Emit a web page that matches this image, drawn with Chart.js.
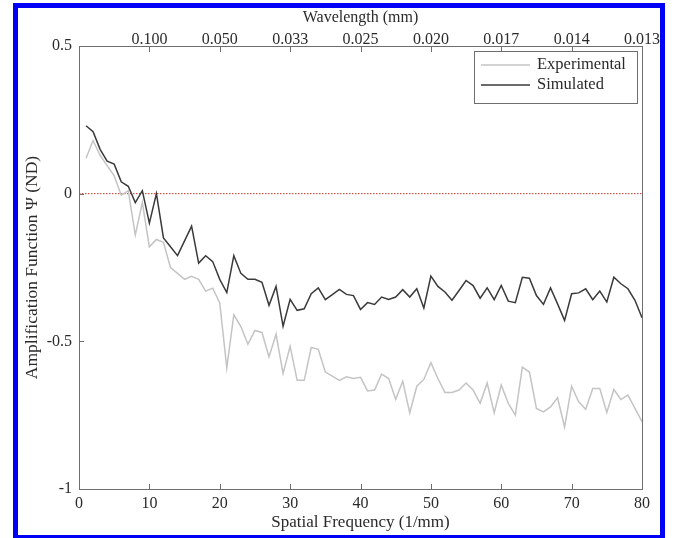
<!DOCTYPE html>
<html>
<head>
    <title>Amplification Function</title>
    <script src="https://cdn.jsdelivr.net/npm/chart.js"></script>
    <style>
        body { margin: 0; background: #fff; }
        #wrap { position: relative; width: 674px; height: 538px; overflow: hidden; }
        #frame {
            position: absolute; left: 13px; top: 3px; width: 652px; height: 537px;
            box-sizing: border-box; border: 5px solid #0000f5; pointer-events: none;
        }
    </style>
</head>
<body>
<div id="wrap">
    <canvas id="ampChart" width="674" height="538"></canvas>
    <div id="frame"></div>
</div>

<script>
    // Spatial frequency (1/mm)
    const freq = [1, 2, 3, 4, 5, 6, 7, 8, 9, 10, 11, 12, 13, 14, 15, 16, 17, 18, 19, 20,
        21, 22, 23, 24, 25, 26, 27, 28, 29, 30, 31, 32, 33, 34, 35, 36, 37, 38, 39, 40,
        41, 42, 43, 44, 45, 46, 47, 48, 49, 50, 51, 52, 53, 54, 55, 56, 57, 58, 59, 60,
        61, 62, 63, 64, 65, 66, 67, 68, 69, 70, 71, 72, 73, 74, 75, 76, 77, 78, 79, 80];

    const experimental = [0.12, 0.18, 0.13, 0.095, 0.06, -0.005, 0.01, -0.14, -0.03, -0.18,
        -0.155, -0.165, -0.25, -0.27, -0.29, -0.28, -0.29, -0.33, -0.32, -0.37,
        -0.59, -0.41, -0.45, -0.51, -0.463, -0.47, -0.553, -0.476, -0.609, -0.517,
        -0.632, -0.632, -0.521, -0.527, -0.604, -0.618, -0.632, -0.62, -0.626, -0.622,
        -0.668, -0.665, -0.611, -0.626, -0.696, -0.635, -0.742, -0.652, -0.629, -0.572,
        -0.626, -0.673, -0.673, -0.665, -0.641, -0.665, -0.71, -0.641, -0.742, -0.648,
        -0.71, -0.75, -0.587, -0.604, -0.727, -0.739, -0.722, -0.691, -0.79, -0.652,
        -0.705, -0.73, -0.66, -0.66, -0.741, -0.663, -0.697, -0.682, -0.727, -0.772];

    const simulated = [0.23, 0.21, 0.15, 0.11, 0.10, 0.04, 0.025, -0.03, 0.01, -0.10,
        0.00, -0.15, -0.18, -0.21, -0.16, -0.11, -0.235, -0.21, -0.23, -0.29,
        -0.335, -0.21, -0.27, -0.29, -0.29, -0.30, -0.378, -0.314, -0.449, -0.358,
        -0.395, -0.39, -0.339, -0.319, -0.359, -0.342, -0.324, -0.341, -0.345, -0.392,
        -0.369, -0.375, -0.35, -0.358, -0.35, -0.325, -0.35, -0.322, -0.387, -0.279,
        -0.314, -0.333, -0.361, -0.328, -0.294, -0.311, -0.354, -0.319, -0.359, -0.311,
        -0.364, -0.369, -0.283, -0.286, -0.345, -0.375, -0.319, -0.373, -0.429, -0.339,
        -0.336, -0.322, -0.359, -0.330, -0.367, -0.283, -0.305, -0.322, -0.361, -0.42];

    // top axis: wavelength = 1 / frequency
    const wavelengthTicks = [10, 20, 30, 40, 50, 60, 70, 80];
    const wavelengthLabels = ['0.100', '0.050', '0.033', '0.025', '0.020', '0.017', '0.014', '0.013'];

    const yTicks = [0.5, 0, -0.5, -1];
    const yTickLabels = ['0.5', '0', '-0.5', '-1'];

    const zeroLine = [{ x: 0, y: 0 }, { x: 80, y: 0 }];

    const serif = 'Liberation Serif';
    const textColor = '#2a2a2a';
    const axisColor = '#6e6e6e';
    const noGrid = { display: false, drawTicks: false, tickLength: 0 };

    // box, inner tick marks and legend, matlab style
    const framePlugin = {
        id: 'frame',
        afterDatasetsDraw(chart) {
            const ctx = chart.ctx;
            const a = chart.chartArea;
            const x = chart.scales.x, y = chart.scales.y;
            ctx.save();
            ctx.strokeStyle = axisColor;
            ctx.lineWidth = 1;
            ctx.strokeRect(Math.round(a.left) + 0.5, Math.round(a.top) + 0.5,
                Math.round(a.right - a.left), Math.round(a.bottom - a.top));

            // legend
            const lx = 474, ly = 51, lw = 163, lh = 52;
            ctx.fillStyle = '#fff';
            ctx.fillRect(lx, ly, lw, lh);
            ctx.strokeRect(lx + 0.5, ly + 0.5, lw, lh);
            ctx.font = '16.5px "' + serif + '"';
            ctx.textBaseline = 'middle';
            ctx.textAlign = 'left';
            const items = [chart.data.datasets[1], chart.data.datasets[0]];
            items.forEach((ds, i) => {
                const yy = ly + 14 + i * 20;
                ctx.strokeStyle = ds.borderColor;
                ctx.lineWidth = ds.borderWidth;
                ctx.beginPath();
                ctx.moveTo(lx + 7, yy); ctx.lineTo(lx + 56, yy);
                ctx.stroke();
                ctx.fillStyle = textColor;
                ctx.fillText(ds.label, lx + 63, yy);
            });

            ctx.strokeStyle = axisColor;
            ctx.lineWidth = 1;
            ctx.beginPath();
            wavelengthTicks.forEach(v => {
                if (v >= 80) return;
                const px = Math.round(x.getPixelForValue(v)) + 0.5;
                ctx.moveTo(px, a.bottom); ctx.lineTo(px, a.bottom - 5);
                ctx.moveTo(px, a.top); ctx.lineTo(px, a.top + 6);
            });
            yTicks.forEach(v => {
                const py = Math.round(y.getPixelForValue(v)) + 0.5;
                ctx.moveTo(a.left, py); ctx.lineTo(a.left + 5, py);
            });
            ctx.stroke();
            ctx.restore();
        }
    };

    const ctx = document.getElementById('ampChart').getContext('2d');
    const chart = new Chart(ctx, {
        type: 'line',
        data: {
            datasets: [
                {
                    label: 'Simulated',
                    data: freq.map((f, i) => ({ x: f, y: simulated[i] })),
                    borderColor: '#3a3a3a',
                    borderWidth: 1.5,
                    pointRadius: 0,
                    tension: 0,
                    order: 0
                },
                {
                    label: 'Experimental',
                    data: freq.map((f, i) => ({ x: f, y: experimental[i] })),
                    borderColor: '#c4c4c4',
                    borderWidth: 1.5,
                    pointRadius: 0,
                    tension: 0,
                    order: 1
                },
                {
                    label: 'zero',
                    data: zeroLine,
                    borderColor: 'rgb(200, 50, 40)',
                    borderWidth: 1,
                    borderDash: [1.5, 1.5],
                    pointRadius: 0,
                    order: 2
                }
            ]
        },
        options: {
            responsive: false,
            animation: false,
            devicePixelRatio: 1,
            layout: { padding: { left: 0, right: 32, top: 0, bottom: 0 }, autoPadding: false },
            plugins: {
                legend: { display: false },
                tooltip: { enabled: false }
            },
            scales: {
                x: {
                    type: 'linear',
                    position: 'bottom',
                    min: 0,
                    max: 80,
                    grid: noGrid,
                    border: { display: false },
                    ticks: {
                        stepSize: 10,
                        autoSkip: false,
                        maxRotation: 0,
                        padding: 7,
                        color: textColor,
                        font: { family: serif, size: 16, lineHeight: 1 }
                    },
                    title: {
                        display: true,
                        text: 'Spatial Frequency (1/mm)',
                        color: textColor,
                        font: { family: serif, size: 17, lineHeight: 1 },
                        padding: { top: 0, bottom: 7 }
                    },
                    afterFit(scale) { scale.height = 49; }
                },
                x2: {
                    type: 'linear',
                    position: 'top',
                    min: 0,
                    max: 80,
                    grid: noGrid,
                    border: { display: false },
                    afterBuildTicks(scale) {
                        scale.ticks = [{ value: 0 }].concat(wavelengthTicks.map(v => ({ value: v })));
                    },
                    ticks: {
                        autoSkip: false,
                        maxRotation: 0,
                        padding: -2,
                        color: textColor,
                        font: { family: serif, size: 16, lineHeight: 1 },
                        callback(value) {
                            const k = wavelengthTicks.indexOf(value);
                            return k < 0 ? '' : wavelengthLabels[k];
                        }
                    },
                    title: {
                        display: true,
                        text: 'Wavelength (mm)',
                        color: textColor,
                        font: { family: serif, size: 16, lineHeight: 1 },
                        padding: { top: 10, bottom: 0 }
                    },
                    afterFit(scale) { scale.height = 46; }
                },
                y: {
                    type: 'linear',
                    min: -1,
                    max: 0.5,
                    grid: noGrid,
                    border: { display: false },
                    afterBuildTicks(scale) {
                        scale.ticks = yTicks.map(v => ({ value: v }));
                    },
                    ticks: {
                        padding: 7,
                        color: textColor,
                        font: { family: serif, size: 16 },
                        callback(value) {
                            const k = yTicks.indexOf(value);
                            return k < 0 ? '' : yTickLabels[k];
                        }
                    },
                    title: {
                        display: true,
                        text: 'Amplification Function Ψ (ND)',
                        color: textColor,
                        font: { family: serif, size: 17.5, lineHeight: 1 },
                        padding: { top: 24, bottom: 0 }
                    },
                    afterFit(scale) { scale.width = 79; }
                }
            }
        },
        plugins: [framePlugin]
    });
</script>
</body>
</html>
